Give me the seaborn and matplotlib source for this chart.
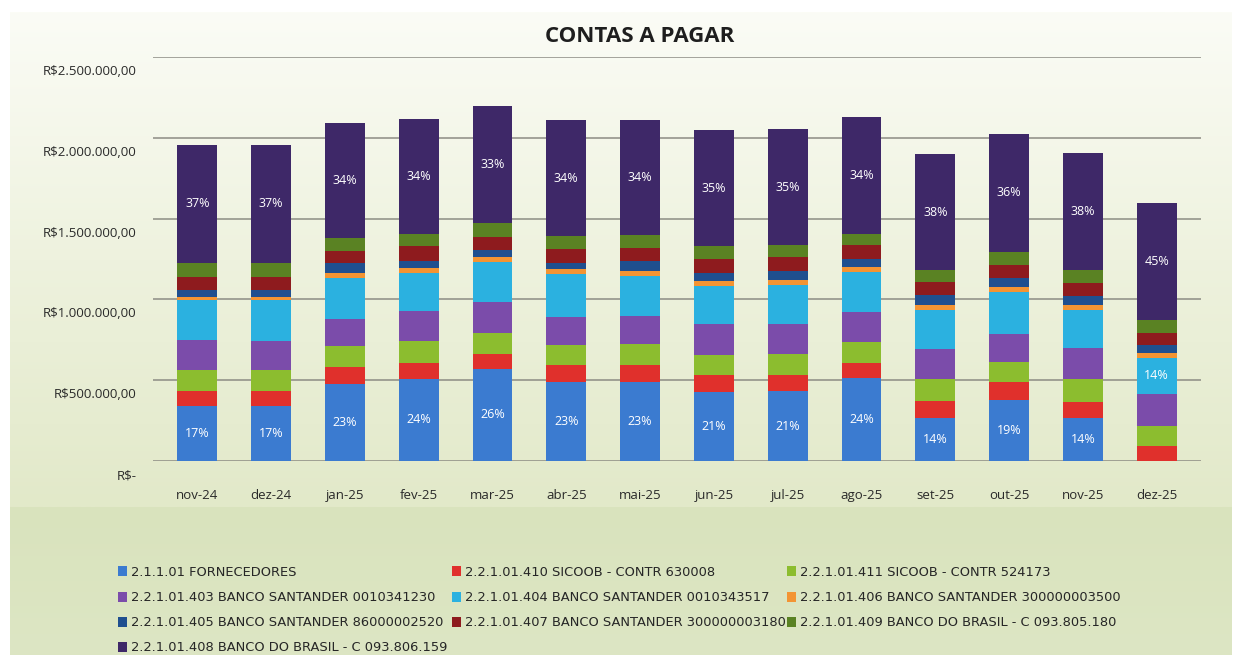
import numpy as np
import pandas as pd
import matplotlib
matplotlib.use("Agg")
import matplotlib.pyplot as plt
import matplotlib.transforms as mtransforms
from matplotlib.patches import Patch
from matplotlib.ticker import FuncFormatter
from matplotlib.colors import LinearSegmentedColormap
import seaborn as sns

# values in thousands of R$
months = ['nov-24', 'dez-24', 'jan-25', 'fev-25', 'mar-25', 'abr-25', 'mai-25',
          'jun-25', 'jul-25', 'ago-25', 'set-25', 'out-25', 'nov-25', 'dez-25']

fornecedores     = [340, 338, 478, 510, 570, 487, 490, 428, 432, 515, 265, 378, 268, 0]
sicoob_630008    = [94, 95, 106, 94, 94, 106, 106, 106, 100, 94, 106, 112, 100, 94]
sicoob_524173    = [131, 131, 125, 137, 131, 125, 131, 125, 128, 125, 137, 125, 137, 125]
santander_341230 = [181, 181, 169, 187, 187, 175, 170, 187, 187, 187, 187, 169, 194, 194]
santander_343517 = [250, 250, 256, 237, 250, 262, 250, 237, 240, 250, 237, 262, 237, 226]
santander_3500   = [19, 19, 31, 30, 31, 31, 31, 30, 30, 30, 31, 31, 31, 30]
santander_86000  = [44, 44, 62, 44, 44, 37, 62, 50, 56, 50, 62, 56, 56, 50]
santander_3180   = [81, 81, 75, 94, 81, 87, 81, 87, 87, 87, 81, 81, 81, 75]
bb_805180        = [88, 88, 81, 69, 87, 81, 75, 81, 75, 69, 75, 81, 81, 81]
bb_806159        = [728, 728, 707, 717, 720, 717, 715, 715, 720, 720, 718, 731, 718, 720]

# stacking order, bottom to top
series = [
    ('2.1.1.01 FORNECEDORES', fornecedores, '#3b7bd0'),
    ('2.2.1.01.410 SICOOB - CONTR 630008', sicoob_630008, '#e0302c'),
    ('2.2.1.01.411 SICOOB - CONTR 524173', sicoob_524173, '#8cbd2f'),
    ('2.2.1.01.403 BANCO SANTANDER 0010341230', santander_341230, '#7b4caa'),
    ('2.2.1.01.404 BANCO SANTANDER 0010343517', santander_343517, '#2bb1e0'),
    ('2.2.1.01.406 BANCO SANTANDER 300000003500', santander_3500, '#f39433'),
    ('2.2.1.01.405 BANCO SANTANDER 86000002520', santander_86000, '#1f4f8f'),
    ('2.2.1.01.407 BANCO SANTANDER 300000003180', santander_3180, '#8e1b1e'),
    ('2.2.1.01.409 BANCO DO BRASIL - C 093.805.180', bb_805180, '#5a8223'),
    ('2.2.1.01.408 BANCO DO BRASIL - C 093.806.159', bb_806159, '#3e2868'),
]

df = pd.DataFrame({name: np.array(vals) * 1000.0 for name, vals, _ in series}, index=months)
cum = df.cumsum(axis=1)
totals = df.sum(axis=1)

sns.set_theme(style="white")
plt.rcParams['font.family'] = ['Open Sans', 'DejaVu Sans']

W, H = 1237, 655
fig = plt.figure(figsize=(W / 100, H / 100), dpi=100)
fig.patch.set_facecolor('white')

# background panel with gradient
bg = fig.add_axes([0, 0, 1, 1], zorder=-10)
bg.set_xlim(0, W)
bg.set_ylim(H, 0)
bg.axis('off')
grad = np.linspace(0, 1, 256).reshape(-1, 1)
cmap_top = LinearSegmentedColormap.from_list('top', ['#fbfcf6', '#eef2de', '#e2e9c9'])
bg.imshow(grad, cmap=cmap_top, aspect='auto', extent=(10, 1232, 507, 12))
cmap_bot = LinearSegmentedColormap.from_list('bot', ['#d9e3bd', '#dde6c4'])
bg.imshow(grad, cmap=cmap_bot, aspect='auto', extent=(10, 1232, H, 507))

base_px = 461
ax = fig.add_axes([153 / W, (H - base_px) / H, (1201 - 153) / W, 404 / H])
ax.set_facecolor('none')

# stacked bars: draw cumulative totals from the top layer down
for k in range(len(series) - 1, -1, -1):
    name, _, color = series[k]
    sns.barplot(x=months, y=cum.iloc[:, k].values, color=color, width=0.54,
                saturation=1, ax=ax, zorder=3, linewidth=0)

# percentage labels
for i, m in enumerate(months):
    bottom = 0
    for name, _, _ in series:
        v = df.loc[m, name]
        pct = v / totals[m] * 100
        if v > 0 and pct >= 13.5:
            ax.text(i, bottom + v / 2, f'{pct:.0f}%', ha='center', va='center',
                    color='white', fontsize=9, zorder=5)
        bottom += v

ax.set_ylim(0, 2500000)
ax.set_xlim(-0.6, 13.6)
ax.set_yticks(np.arange(0, 2500001, 500000))


def brl(v, pos):
    if v == 0:
        return 'R$-'
    s = f'{v:,.2f}'.replace(',', 'X').replace('.', ',').replace('X', '.')
    return 'R$' + s


ax.yaxis.set_major_formatter(FuncFormatter(brl))
ax.grid(axis='y', color='#8c8c84', linewidth=1.1, zorder=0)
ax.grid(axis='x', visible=False)
for s in ax.spines.values():
    s.set_visible(False)
ax.tick_params(axis='x', length=0, pad=20, labelsize=9.5, labelcolor='#2a2a2a')
ax.tick_params(axis='y', length=0, pad=12, labelsize=9.5, labelcolor='#2a2a2a')
ax.set_xlabel('')
ax.set_ylabel('')
off = mtransforms.ScaledTranslation(0, -0.13, fig.dpi_scale_trans)
for lab in ax.get_yticklabels():
    lab.set_transform(lab.get_transform() + off)

fig.text(640 / W, 1 - 37 / H, 'CONTAS A PAGAR', ha='center', va='center',
         fontsize=16, fontweight='bold', color='#1e1e1e')

# legend, filled row by row in three columns
handles = [Patch(facecolor=c, edgecolor='none') for _, _, c in series]
labels = [n for n, _, _ in series]
col_x = [118, 452, 787]
for c in range(3):
    idx = list(range(c, len(series), 3))
    fig.legend([handles[i] for i in idx], [labels[i] for i in idx],
               loc='upper left', bbox_to_anchor=(col_x[c] / W, 1 - 566 / H),
               frameon=False, handlelength=0.7, handleheight=0.8,
               handletextpad=0.3, labelspacing=0.93, borderpad=0, borderaxespad=0,
               prop={'family': ['DejaVu Sans'], 'size': 9.4})

fig.savefig('out.png', dpi=100)
